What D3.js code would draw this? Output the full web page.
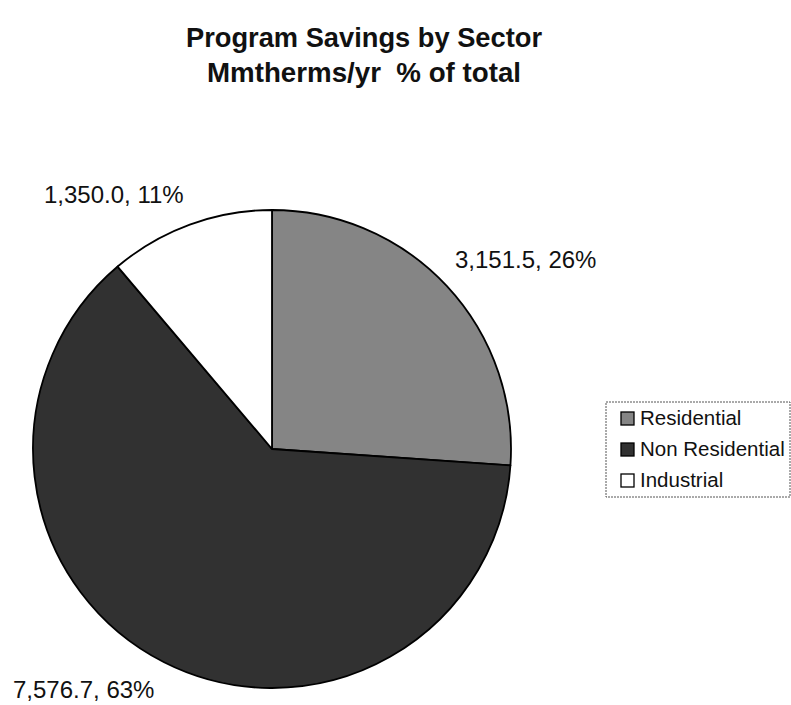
<!DOCTYPE html>
<html>
<head>
<meta charset="utf-8">
<script src="https://cdn.jsdelivr.net/npm/d3@7"></script>
<style>
  html, body { margin: 0; padding: 0; background: #fff; }
  svg { display: block; font-family: "Liberation Sans", Arial, sans-serif; }
  .title { white-space: pre; }
</style>
</head>
<body>
<svg id="chart" width="791" height="705"></svg>
<script>
// Program savings by sector (Mmtherms/yr)
const sectors = ["Residential", "Non Residential", "Industrial"];
const savings = [3151.5, 7576.7, 1350.0];
const percentLabels = ["26%", "63%", "11%"];
const sectorFills = ["#858585", "#313131", "#ffffff"];
const titleLines = ["Program Savings by Sector", "Mmtherms/yr  % of total"];

const svg = d3.select("#chart");
const cx = 272, cy = 449, radius = 239;

// Title (condensed bold, two lines)
const titleWidths = [356, 314];
svg.append("g").selectAll("text")
  .data(titleLines)
  .join("text")
  .attr("class", "title")
  .attr("x", 364)
  .attr("y", (d, i) => 47 + i * 35)
  .attr("text-anchor", "middle")
  .attr("font-size", 28)
  .attr("font-weight", "bold")
  .attr("fill", "#111")
  .attr("textLength", (d, i) => titleWidths[i])
  .attr("lengthAdjust", "spacingAndGlyphs")
  .text(d => d);

const rows = sectors.map((s, i) => ({ sector: s, value: savings[i], pct: percentLabels[i], fill: sectorFills[i] }));

const pie = d3.pie().sort(null).value(d => d.value);
const arc = d3.arc().innerRadius(0).outerRadius(radius);
const arcs = pie(rows);

const g = svg.append("g").attr("transform", `translate(${cx},${cy})`);
g.selectAll("path")
  .data(arcs)
  .join("path")
  .attr("d", arc)
  .attr("fill", d => d.data.fill)
  .attr("stroke", "#000")
  .attr("stroke-width", 1.8)
  .attr("stroke-linejoin", "round");

// Data labels: value and share, placed outside each slice
const fmt = d3.format(",.1f");
const labelPos = [
  { x: 455, y: 268 },
  { x: 13, y: 698 },
  { x: 44, y: 203 }
];
svg.append("g").selectAll("text")
  .data(arcs)
  .join("text")
  .attr("x", (d, i) => labelPos[i].x)
  .attr("y", (d, i) => labelPos[i].y)
  .attr("font-size", 24)
  .attr("fill", "#111")
  .text(d => `${fmt(d.data.value)}, ${d.data.pct}`);

// Legend
const legend = svg.append("g").attr("transform", "translate(606,402)");
legend.append("rect")
  .attr("x", 0).attr("y", 0)
  .attr("width", 184).attr("height", 95)
  .attr("fill", "#fff")
  .attr("stroke", "#555")
  .attr("stroke-width", 1)
  .attr("stroke-dasharray", "2,1");
const items = legend.selectAll("g.item")
  .data(rows)
  .join("g")
  .attr("class", "item")
  .attr("transform", (d, i) => `translate(15,${23 + i * 31})`);
items.append("rect")
  .attr("y", -13)
  .attr("width", 13).attr("height", 13)
  .attr("fill", d => d.fill)
  .attr("stroke", "#000")
  .attr("stroke-width", 1.3);
items.append("text")
  .attr("x", 19).attr("y", 0)
  .attr("font-size", 20.5)
  .attr("fill", "#111")
  .text(d => d.sector);
</script>
</body>
</html>
